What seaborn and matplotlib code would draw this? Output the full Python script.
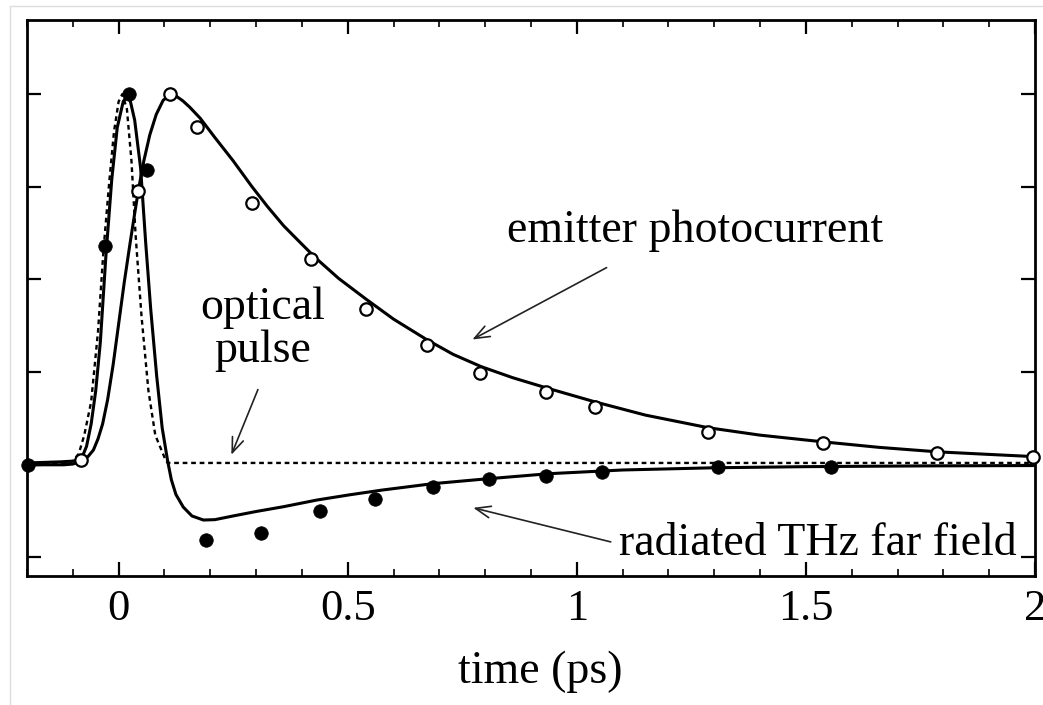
import numpy as np
import pandas as pd
import matplotlib
matplotlib.use("Agg")
import matplotlib.pyplot as plt
from matplotlib.ticker import MultipleLocator, NullFormatter
import seaborn as sns

# ---- measured curves (time in ps, normalised amplitude) ----
photo_t = [-0.20, -0.126, -0.10, -0.08, -0.067, -0.055, -0.045, -0.035, -0.024, -0.012,
           0.0, 0.012, 0.024, 0.034, 0.043, 0.055, 0.068, 0.082, 0.097, 0.113, 0.125,
           0.14, 0.155, 0.178, 0.21, 0.25, 0.29, 0.324, 0.36, 0.396, 0.43, 0.48,
           0.541, 0.60, 0.672, 0.73, 0.791, 0.86, 0.935, 1.039, 1.15, 1.287, 1.40,
           1.537, 1.66, 1.787, 1.90, 2.0]
photo_y = [0.005, 0.008, 0.01, 0.014, 0.022, 0.04, 0.07, 0.11, 0.176, 0.27,
           0.38, 0.49, 0.59, 0.67, 0.74, 0.82, 0.89, 0.945, 0.983, 1.0, 0.995,
           0.982, 0.965, 0.935, 0.883, 0.82, 0.752, 0.698, 0.645, 0.6, 0.558, 0.503,
           0.446, 0.393, 0.338, 0.298, 0.265, 0.235, 0.207, 0.17, 0.134, 0.1, 0.08,
           0.062, 0.047, 0.035, 0.028, 0.022]

thz_t = [-0.20, -0.12, -0.10, -0.09, -0.08, -0.07, -0.06, -0.05, -0.04, -0.028,
         -0.015, -0.003, 0.01, 0.022, 0.035, 0.048, 0.059, 0.07, 0.083, 0.095,
         0.107, 0.115, 0.125, 0.141, 0.16, 0.185, 0.21, 0.25, 0.30, 0.36, 0.433,
         0.504, 0.576, 0.685, 0.793, 0.939, 1.10, 1.30, 1.50, 1.75, 2.0]
thz_y = [0.0, 0.0, 0.002, 0.006, 0.02, 0.05, 0.11, 0.2, 0.33, 0.56,
         0.77, 0.91, 0.98, 1.0, 0.93, 0.8, 0.6, 0.42, 0.24, 0.1,
         0.01, -0.04, -0.08, -0.114, -0.138, -0.149, -0.148, -0.138, -0.126, -0.113, -0.095,
         -0.081, -0.068, -0.051, -0.039, -0.024, -0.014, -0.008, -0.005, -0.003, -0.002]

pulse_t = [-0.20, -0.12, -0.10, -0.087, -0.075, -0.06, -0.045, -0.033, -0.02, -0.01,
           0.0, 0.008, 0.018, 0.028, 0.037, 0.05, 0.065, 0.08, 0.10, 0.107, 2.0]
pulse_y = [0.003, 0.003, 0.01, 0.03, 0.08, 0.17, 0.36, 0.58, 0.77, 0.9,
           0.98, 1.0, 0.96, 0.82, 0.62, 0.4, 0.2, 0.08, 0.02, 0.005, 0.005]

# ---- measured points ----
photo_pts_t = [-0.083, 0.043, 0.113, 0.172, 0.29, 0.42, 0.54, 0.672, 0.789, 0.933,
               1.04, 1.287, 1.537, 1.787, 1.995]
photo_pts_y = [0.014, 0.74, 1.0, 0.91, 0.705, 0.554, 0.42, 0.324, 0.249, 0.197,
               0.157, 0.089, 0.059, 0.032, 0.022]

thz_pts_t = [-0.198, -0.03, 0.022, 0.061, 0.19, 0.31, 0.44, 0.56, 0.687, 0.809,
             0.933, 1.054, 1.309, 1.554]
thz_pts_y = [0.0, 0.59, 1.0, 0.795, -0.203, -0.184, -0.124, -0.092, -0.06, -0.038,
             -0.03, -0.019, -0.005, -0.005]

x_ticks = [0, 0.5, 1, 1.5, 2]
x_tick_labels = ["0", "0.5", "1", "1.5", "2"]
y_ticks = [-0.25, 0, 0.25, 0.5, 0.75, 1.0]

sns.set_theme(style="ticks")
plt.rcParams["font.family"] = ["Liberation Serif", "DejaVu Serif"]
plt.rcParams["text.color"] = "black"
plt.rcParams["axes.labelcolor"] = "black"
plt.rcParams["xtick.color"] = "black"
plt.rcParams["ytick.color"] = "black"

fig = plt.figure(figsize=(10.43, 7.05), dpi=100)
ax = fig.add_axes([27 / 1043, 1 - 576 / 705, (1035 - 27) / 1043, (576 - 20) / 705])

photo_df = pd.DataFrame({"t": photo_t, "y": photo_y})
thz_df = pd.DataFrame({"t": thz_t, "y": thz_y})
pulse_df = pd.DataFrame({"t": pulse_t, "y": pulse_y})

sns.lineplot(data=pulse_df, x="t", y="y", ax=ax, color="black", lw=1.7,
             linestyle=(0, (2.0, 1.6)), sort=False, estimator=None)
sns.lineplot(data=thz_df, x="t", y="y", ax=ax, color="black", lw=2.2,
             sort=False, estimator=None)
sns.lineplot(data=photo_df, x="t", y="y", ax=ax, color="black", lw=2.2,
             sort=False, estimator=None)

sns.scatterplot(x=photo_pts_t, y=photo_pts_y, ax=ax, s=80, color="white",
                edgecolor="black", linewidth=1.6, zorder=5, clip_on=False)
sns.scatterplot(x=thz_pts_t, y=thz_pts_y, ax=ax, s=95, color="black",
                edgecolor="black", linewidth=0.5, zorder=6, clip_on=False)

ax.set_xlim(-0.2, 2.0)
ax.set_ylim(-0.3, 1.2)
ax.set_xticks(x_ticks)
ax.set_xticklabels(x_tick_labels)
ax.xaxis.set_minor_locator(MultipleLocator(0.1))
ax.set_yticks(y_ticks)
ax.yaxis.set_major_formatter(NullFormatter())
ax.tick_params(axis="both", which="major", direction="in", length=10, width=1.6,
               top=True, right=True, labelsize=32, pad=9, colors="black")
ax.tick_params(axis="x", which="minor", direction="in", length=5, width=1.2,
               top=True, bottom=True)
ax.tick_params(axis="y", which="major", labelleft=False)
for sp in ax.spines.values():
    sp.set_linewidth(2.0)
    sp.set_color("black")

ax.set_xlabel("time (ps)", fontsize=33, labelpad=16, color="black")
ax.xaxis.label.set_x((540 - 27) / 1008)
ax.set_ylabel("")

arrow = dict(arrowstyle="->,head_length=0.9,head_width=0.35", color="#222222", lw=1.2,
             shrinkA=0, shrinkB=0)
ax.text(1.259, 0.60, "emitter photocurrent", fontsize=33, ha="center", va="baseline")
ax.annotate("", xy=(0.772, 0.338), xytext=(1.065, 0.532), arrowprops=arrow)

ax.text(0.315, 0.392, "optical", fontsize=33, ha="center", va="baseline")
ax.text(0.315, 0.278, "pulse", fontsize=33, ha="center", va="baseline")
ax.annotate("", xy=(0.246, 0.027), xytext=(0.304, 0.203), arrowprops=arrow)

ax.text(1.526, -0.243, "radiated THz far field", fontsize=33, ha="center", va="baseline")
ax.annotate("", xy=(0.774, -0.116), xytext=(1.074, -0.208), arrowprops=arrow)

# faint frame around the figure
fig.add_artist(plt.Line2D([10 / 1043, 1], [1 - 6 / 705, 1 - 6 / 705],
                          transform=fig.transFigure, color="#dddddd", lw=1))
fig.add_artist(plt.Line2D([10 / 1043, 10 / 1043], [0, 1 - 6 / 705],
                          transform=fig.transFigure, color="#dddddd", lw=1))

fig.savefig("out.png", dpi=100, facecolor="white")
